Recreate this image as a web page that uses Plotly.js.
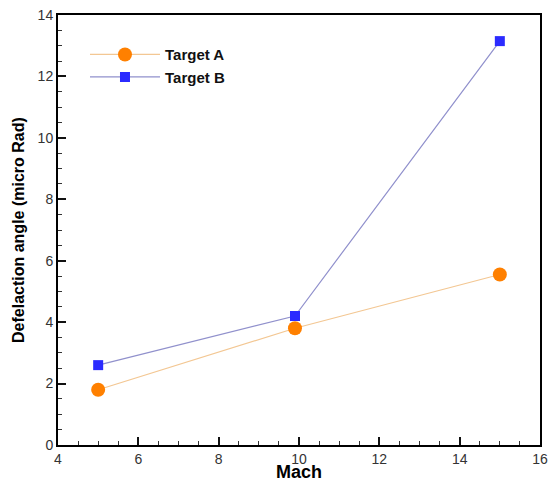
<!DOCTYPE html>
<html><head><meta charset="utf-8">
<script src="https://cdn.plot.ly/plotly-3.0.1.min.js"></script>
<style>html,body{margin:0;padding:0;background:#fff}#plot{width:549px;height:481px}</style>
</head><body><div id="plot"></div>
<script>
var machA = [5, 9.9, 15];
var targetA = [1.8, 3.8, 5.55];
var machB = [5, 9.9, 15];
var targetB = [2.6, 4.2, 13.15];
var xRange = [4, 16];
var yRange = [0, 14];

var traces = [
  {x: machA, y: targetA, name: 'Target A', type: 'scatter', mode: 'lines+markers',
   line: {color: '#F3C793', width: 1.2},
   marker: {symbol: 'circle', size: 14, color: '#FF8000'}},
  {x: machB, y: targetB, name: 'Target B', type: 'scatter', mode: 'lines+markers',
   line: {color: '#9090CC', width: 1.2},
   marker: {symbol: 'square', size: 10, color: '#2B2BFF'}}
];

var fontFam = 'Liberation Sans, Arial, sans-serif';
function axis(range, nt) {
  return {
    range: range, showgrid: false, zeroline: false, automargin: false,
    showline: true, linecolor: '#000', linewidth: 2, mirror: true,
    ticks: 'inside', ticklen: 8, tickwidth: 2, tickcolor: '#111', nticks: nt,
    tickfont: {family: fontFam, size: 14, color: '#333'},
    minor: {ticks: 'inside', ticklen: 4, tickwidth: 1, tickcolor: '#333', dtick: 0.5},
    title: {text: ''}
  };
}

var layout = {
  width: 549, height: 481,
  margin: {l: 58, r: 9, t: 15, b: 36},
  showlegend: true,
  legend: {x: 0.056, y: 0.946, xanchor: 'left', yanchor: 'top', bgcolor: 'rgba(0,0,0,0)',
    font: {family: fontFam, size: 15, color: '#111', weight: 'bold'},
    itemwidth: 70, tracegroupgap: 0},
  xaxis: axis(xRange, 7),
  yaxis: axis(yRange, 8),
  annotations: [
    {text: '<b>Mach</b>', xref: 'paper', yref: 'paper', x: 0.5, y: -0.063, xanchor: 'center', yanchor: 'middle',
     showarrow: false, font: {family: fontFam, size: 18, color: '#000'}},
    {text: '<b>Defelaction angle (micro Rad)</b>', xref: 'paper', yref: 'paper', x: -0.083, y: 0.5,
     xanchor: 'center', yanchor: 'middle', textangle: -90,
     showarrow: false, font: {family: fontFam, size: 16, color: '#000'}}
  ]
};

Plotly.newPlot('plot', traces, layout, {displayModeBar: false});
</script></body></html>
